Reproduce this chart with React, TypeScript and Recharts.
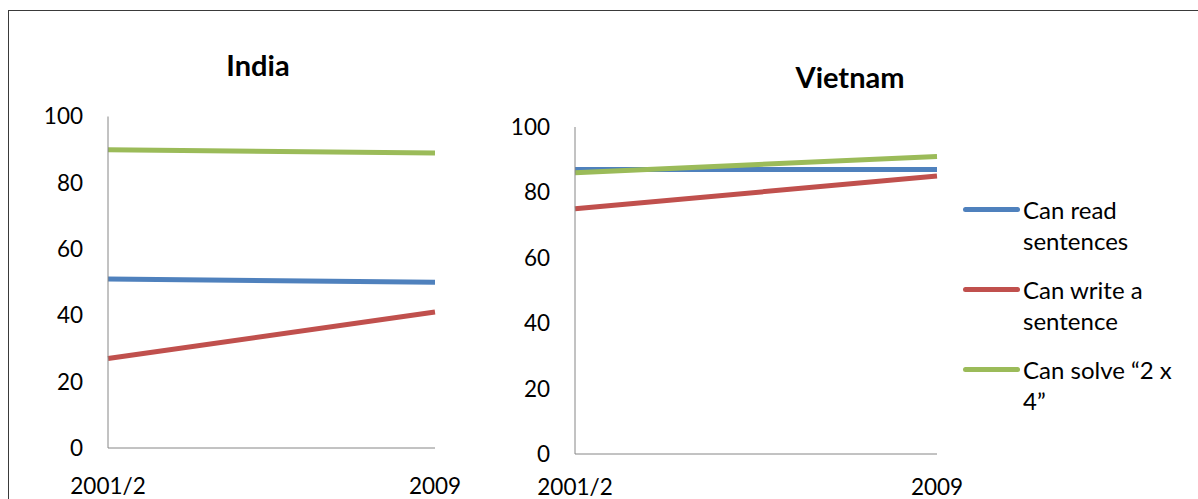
import { Line, LineChart, XAxis, YAxis } from "recharts";

const YEARS = ["2001/2", "2009"];
const Y_TICKS = [0, 20, 40, 60, 80, 100];

const INDIA_READ = [51, 50];
const INDIA_WRITE = [27, 41];
const INDIA_SOLVE = [90, 89];

const VIETNAM_READ = [87, 87];
const VIETNAM_WRITE = [75, 85];
const VIETNAM_SOLVE = [86, 91];

const SERIES = [
  { key: "read", name: "Can read sentences", color: "#4F81BD" },
  { key: "write", name: "Can write a sentence", color: "#C0504D" },
  { key: "solve", name: "Can solve \u201C2 x 4\u201D", color: "#9BBB59" },
];

const FONT = "Lato, 'Open Sans', sans-serif";
const AXIS = "#868686";

function rows(read: number[], write: number[], solve: number[]) {
  return YEARS.map((year, i) => ({
    year,
    read: read[i],
    write: write[i],
    solve: solve[i],
  }));
}

const indiaRows = rows(INDIA_READ, INDIA_WRITE, INDIA_SOLVE);
const vietnamRows = rows(VIETNAM_READ, VIETNAM_WRITE, VIETNAM_SOLVE);

const tick = { fill: "#000", fontSize: 22.5, fontFamily: FONT };

function Panel({
  data,
  width,
  yWidth,
  top,
  right,
  xHeight,
  xMargin,
}: {
  data: ReturnType<typeof rows>;
  width: number;
  yWidth: number;
  top: number;
  right: number;
  xHeight: number;
  xMargin: number;
}) {
  return (
    <LineChart
      width={width}
      height={499}
      data={data}
      margin={{ top, right, bottom: 0, left: 0 }}
    >
      <XAxis
        dataKey="year"
        interval={0}
        height={xHeight}
        tickLine={false}
        tickSize={0}
        tickMargin={xMargin}
        axisLine={{ stroke: AXIS, strokeWidth: 1 }}
        tick={tick}
      />
      <YAxis
        domain={[0, 100]}
        ticks={Y_TICKS}
        width={yWidth}
        tickLine={false}
        tickSize={0}
        tickMargin={25}
        axisLine={{ stroke: AXIS, strokeWidth: 1 }}
        tick={tick}
      />
      {SERIES.map((s) => (
        <Line
          key={s.key}
          dataKey={s.key}
          name={s.name}
          stroke={s.color}
          strokeWidth={5}
          dot={false}
          activeDot={false}
          isAnimationActive={false}
        />
      ))}
    </LineChart>
  );
}

const titleStyle = {
  position: "absolute" as const,
  width: 240,
  textAlign: "center" as const,
  fontFamily: FONT,
  fontWeight: 700,
  fontSize: 29,
  lineHeight: "34px",
  color: "#000",
};

export default function App() {
  return (
    <div
      style={{
        position: "fixed",
        left: 0,
        top: 0,
        width: 1198,
        height: 499,
        overflow: "hidden",
        background: "#fff",
      }}
    >
      <div
        style={{
          position: "absolute",
          left: 8,
          top: 10,
          width: 1300,
          height: 600,
          border: "1px solid #3a3a3a",
        }}
      />
      <div style={{ position: "absolute", left: 0, top: 0 }}>
        <Panel
          data={indiaRows}
          width={480}
          yWidth={108}
          top={116.5}
          right={45}
          xHeight={51}
          xMargin={30}
        />
      </div>
      <div style={{ position: "absolute", left: 480, top: 0 }}>
        <Panel
          data={vietnamRows}
          width={500}
          yWidth={95}
          top={127}
          right={43}
          xHeight={45}
          xMargin={25}
        />
      </div>
      <div style={{ ...titleStyle, left: 258 - 120, top: 65 - 17 }}>India</div>
      <div style={{ ...titleStyle, left: 850 - 120, top: 77 - 17 }}>Vietnam</div>

      <div
        style={{
          position: "absolute",
          left: 963,
          top: 194,
          display: "flex",
          flexDirection: "column",
          gap: 18,
          fontFamily: FONT,
          fontSize: 24,
          lineHeight: "31px",
          color: "#000",
        }}
      >
        {SERIES.map((s) => (
          <div key={s.key} style={{ display: "flex", alignItems: "flex-start" }}>
            <span
              style={{
                display: "block",
                width: 57,
                height: 5,
                marginTop: 13,
                borderRadius: 3,
                background: s.color,
                flex: "none",
              }}
            />
            <span style={{ marginLeft: 3, width: 160 }}>{s.name}</span>
          </div>
        ))}
      </div>
    </div>
  );
}
